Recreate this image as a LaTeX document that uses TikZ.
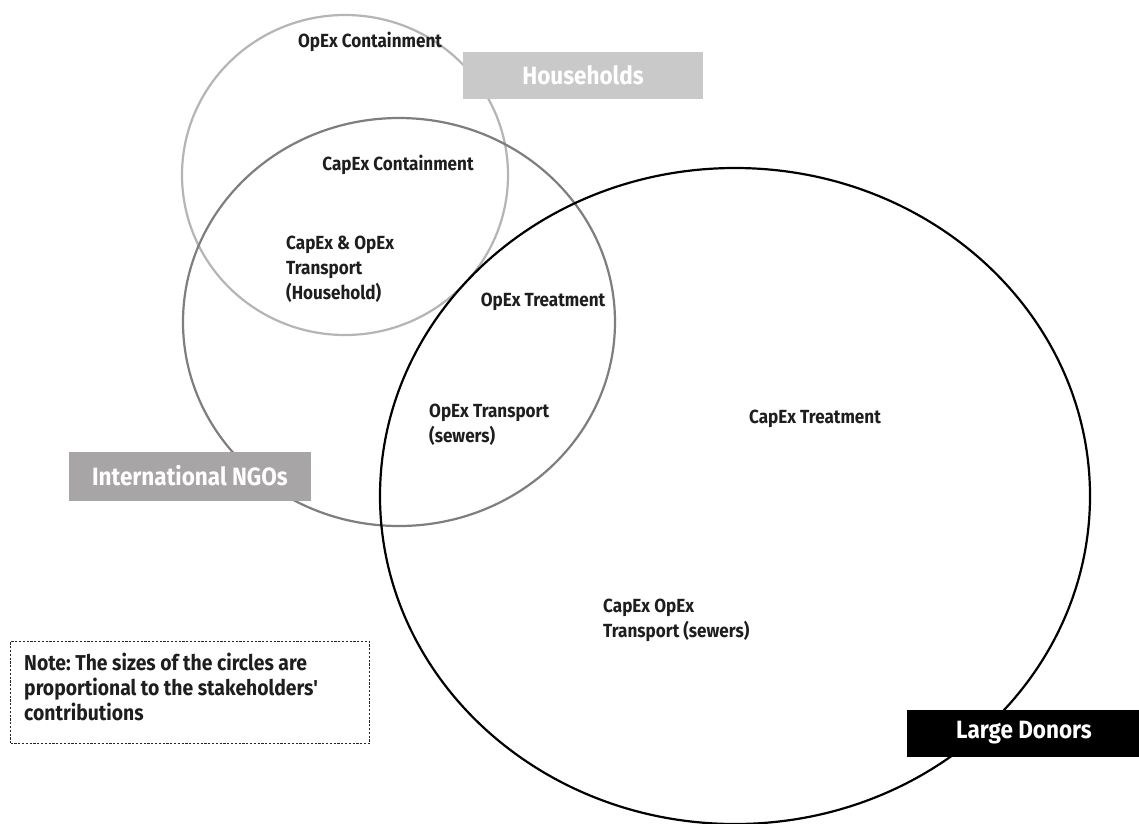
\documentclass[tikz,border=0pt]{standalone}
\usepackage{fontspec}
\setmainfont{Fira Sans}[FakeStretch=0.9]
\frenchspacing
\definecolor{ringlight}{HTML}{B5B5B5}
\definecolor{ringmid}{HTML}{7E7E7E}
\definecolor{hhfill}{HTML}{C9C9C9}
\definecolor{ngofill}{HTML}{A7A5A5}
\definecolor{labeltext}{HTML}{1E1E1E}
\tikzset{
  ring/.style={line width=2.2pt},
  lbl/.style={font=\fontsize{19}{25}\selectfont\bfseries, text=labeltext, inner sep=0pt},
  lbll/.style={lbl, anchor=north west, align=left},
  tagbox/.style={draw=none, font=\fontsize{25}{28}\selectfont\bfseries, text=white, inner sep=0pt},
  notebox/.style={draw=black!85, line width=1pt, dash pattern=on 2.2pt off 1.6pt,
    minimum width=359, minimum height=102, anchor=north west},
  notetext/.style={font=\fontsize{21.5}{25}\selectfont\bfseries, text=labeltext, align=left,
    inner sep=0pt, anchor=north west}
}
\begin{document}
\begin{tikzpicture}[x=1pt,y=-1pt]
\useasboundingbox (0,0) rectangle (1139,823);
\fill[white] (0,0) rectangle (1139,823);

% stakeholder circles, sized by contribution
\draw[ring, draw=ringlight] (345,175) ellipse [x radius=163, y radius=160];
\draw[ring, draw=ringmid] (399,322) ellipse [x radius=216, y radius=204];
\draw[ring, draw=black] (735,496) ellipse [x radius=355, y radius=328];

% cost items
\node[lbl] (opexcont) at (370,42) {OpEx Containment};
\node[lbl] (capexcont) at (398,165) {CapEx Containment};
\node[lbll] (hhtrans) at (286,236) {CapEx \& OpEx\\Transport\\(Household)};
\node[lbl] (opextreat) at (543,302) {OpEx Treatment};
\node[lbll] (opexsew) at (429,404) {OpEx Transport\\(sewers)};
\node[lbl] (capextreat) at (815,419) {CapEx Treatment};
\node[lbll] (capexsew) at (603,599) {CapEx OpEx\\Transport (sewers)};

% stakeholder tags
\node[tagbox, fill=hhfill, minimum width=240, minimum height=47] (hh) at (583,75) {Households};
\node[tagbox, fill=ngofill, minimum width=242, minimum height=49] (ngo) at (190,476) {International NGOs};
\node[tagbox, fill=black, minimum width=234, minimum height=47] (donors) at (1024,733) {Large Donors};

% note
\node[notebox] (note) at (10,641) {};
\node[notetext] (notebody) at ([xshift=14pt, yshift=-12pt]note.north west)
  {Note: The sizes of the circles are\\proportional to the stakeholders\textquotesingle\\contributions};
\end{tikzpicture}
\end{document}
